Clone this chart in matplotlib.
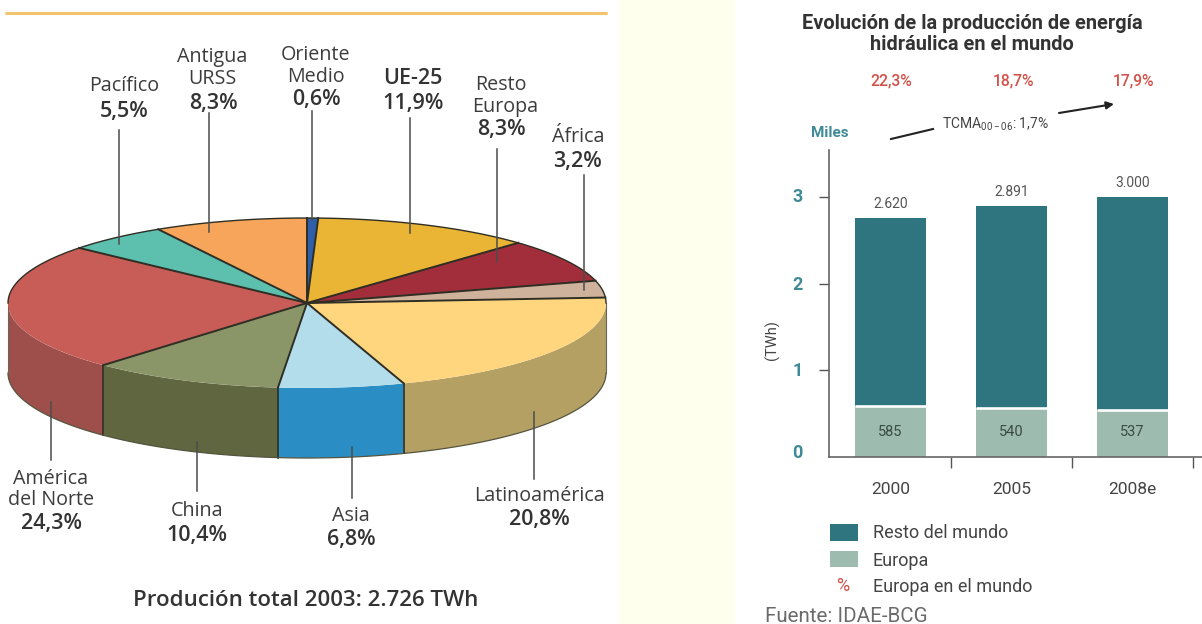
import numpy as np
import matplotlib
matplotlib.use("Agg")
import matplotlib.pyplot as plt
from matplotlib.patches import Rectangle, Polygon
from matplotlib.transforms import ScaledTranslation

# ---------- data ----------
regions = ["Oriente Medio", "UE-25", "Resto Europa", "África", "Latinoamérica",
           "Asia", "China", "América del Norte", "Pacífico", "Antigua URSS"]
shares = [0.6, 11.9, 8.3, 3.2, 20.8, 6.8, 10.4, 24.3, 5.5, 8.3]
top_colors = ["#2F5FA8", "#EAB435", "#A32E3B", "#CFB29B", "#FFD67E",
              "#B3DDEB", "#8A9668", "#C75D56", "#5DBFAE", "#F6A55A"]
wall_colors = ["#2F5FA8", "#EAB435", "#A32E3B", "#A08A78", "#B5A064",
               "#2A8EC5", "#5F6640", "#9E4F4B", "#5DBFAE", "#F6A55A"]

years = ["2000", "2005", "2008e"]
europa = [0.594, 0.565, 0.548]         # drawn height of the lower segment
resto = [2.163, 2.333, 2.452]          # drawn height of the upper segment
total_labels = ["2.620", "2.891", "3.000"]
europa_labels = ["585", "540", "537"]
europe_pct = ["22,3%", "18,7%", "17,9%"]

W, H = 1202, 624
PIE_FONT = "Open Sans"
BAR_FONT = "Roboto"
plt.rcParams["mathtext.default"] = "regular"
fig = plt.figure(figsize=(W / 100, H / 100), dpi=100, facecolor="white")


def rect(x0, y0, x1, y1):
    return [x0 / W, 1 - y1 / H, (x1 - x0) / W, (y1 - y0) / H]


# ---------- 3-D pie ----------
ax_pie = fig.add_axes(rect(8, 218, 606, 388))
wedges, _ = ax_pie.pie(shares, colors=top_colors, startangle=90, counterclock=False,
                       radius=1, wedgeprops=dict(linewidth=0), normalize=True)
ax_pie.set_aspect("auto")
ax_pie.set_xlim(-1, 1)
ax_pie.set_ylim(-1, 1)
for w in wedges:
    w.set_zorder(3)
    w.set_clip_on(False)

depth = 70 / 85
edge = "#2e2e24"
bounds = np.cumsum([0] + shares) / np.sum(shares) * 2 * np.pi   # clockwise from top
for i, c in enumerate(wall_colors):
    a0, a1 = max(bounds[i], np.pi / 2), min(bounds[i + 1], 3 * np.pi / 2)
    if a1 <= a0:
        continue
    t = np.linspace(a0, a1, 80)
    x, y = np.sin(t), np.cos(t)
    pts = np.r_[np.c_[x, y], np.c_[x[::-1], y[::-1] - depth]]
    ax_pie.add_patch(Polygon(pts, closed=True, fc=c, ec="none", zorder=1, clip_on=False))
    if a0 > np.pi / 2:
        ax_pie.plot([x[0], x[0]], [y[0], y[0] - depth], color=edge, lw=1.2, zorder=2, clip_on=False)
    ax_pie.plot(x, y - depth, color="#55553f", lw=0.9, zorder=2, clip_on=False)
ax_pie.plot([-1, -1], [0, -depth], color="#666655", lw=0.8, zorder=2, clip_on=False)
ax_pie.plot([1, 1], [0, -depth], color="#666655", lw=0.8, zorder=2, clip_on=False)
for b in bounds[:-1]:
    ax_pie.plot([0, np.sin(b)], [0, np.cos(b)], color=edge, lw=1.4, zorder=4, clip_on=False)
t = np.linspace(-np.pi / 2, np.pi / 2, 200)
ax_pie.plot(np.sin(t), np.cos(t), color=edge, lw=1.0, zorder=4, clip_on=False)

# ---------- stacked bars ----------
ax = fig.add_axes(rect(829, 150, 1202, 457))
ax.patch.set_alpha(0)
pos = np.arange(len(years))
ax.bar(pos, europa, width=0.59, color="#9DBCAF")
ax.bar(pos, resto, width=0.59, bottom=europa, color="#2E7580")
ax.hlines(europa, pos - 0.295, pos + 0.295, color="white", lw=1.9, zorder=3)
ax.set_xlim(-0.508, 2.574)
ax.set_ylim(0, 307 / 86.67)
for s in ("top", "right"):
    ax.spines[s].set_visible(False)
for s in ("left", "bottom"):
    ax.spines[s].set_color("#666666")
    ax.spines[s].set_linewidth(1.2)
ax.set_xticks(pos)
ax.set_xticklabels(years, fontfamily=BAR_FONT, fontsize=12.5, color="#444444")
ax.tick_params(axis="x", which="major", length=0, pad=18)
ax.set_xticks([0.5, 1.5, 2.5], minor=True)
ax.tick_params(axis="x", which="minor", length=8, width=1, color="#555555")
ax.set_yticks([0, 1, 2, 3])
ax.set_yticklabels(["0", "1", "2", "3"], fontfamily=BAR_FONT, fontsize=13, fontweight="bold", color="#3F8A96")
ax.tick_params(axis="y", length=7, width=1, color="#555555", pad=12)
ax.yaxis.get_major_ticks()[0].tick1line.set_visible(False)
for lab, up_px in zip(ax.get_yticklabels(), [6, 1, 1, 2]):
    lab.set_transform(lab.get_transform() + ScaledTranslation(0, up_px / 100, fig.dpi_scale_trans))
for p, e, r, tot, el in zip(pos, europa, resto, total_labels, europa_labels):
    ax.text(p, e + r + 0.08, tot, ha="center", va="bottom", fontfamily=BAR_FONT, fontsize=10, color="#555555")
    ax.text(p, 0.29, el, ha="center", va="center", fontfamily=BAR_FONT, fontsize=10.5, color="#3a4a44")

# ---------- overlay in pixel coordinates: panels, callouts, text ----------
ov = fig.add_axes([0, 0, 1, 1], zorder=10)
ov.set_xlim(0, W)
ov.set_ylim(H, 0)
ov.axis("off")
ov.add_patch(Rectangle((619, 0), 116, H, fc="#FFFFEE", ec="none", zorder=0))
ov.plot([6, 606], [13, 13], color="#F2C46E", lw=2.2, solid_capstyle="round")

leaders = [(119, 130, 244), (209, 113, 232), (312, 111, 220), (410, 118, 233), (497, 149, 262),
           (584, 175, 290), (51, 402, 460), (197, 442, 491), (352, 447, 498), (534, 412, 479)]
for x, y0, y1 in leaders:
    ov.plot([x, x], [y0, y1], color="#4c4c4c", lw=1.1)

name_color = "#3c3c3c"
names = [("Pacífico", 124, 86), ("Antigua", 212, 57), ("URSS", 212, 79), ("Oriente", 316, 55), ("Medio", 316, 77),
         ("Resto", 501, 85), ("Europa", 505, 107), ("África", 578, 137), ("América", 51, 479),
         ("del Norte", 51, 500), ("China", 197, 511), ("Asia", 351, 516), ("Latinoamérica", 539, 496)]
for s, x, y in names:
    ov.text(x, y, s, ha="center", va="center", fontfamily=PIE_FONT, fontsize=14.2, color=name_color)
values_txt = [("UE-25", 413, 79), ("5,5%", 124, 111), ("8,3%", 213, 103), ("0,6%", 316, 100), ("11,9%", 413, 103),
              ("8,3%", 501, 130), ("3,2%", 578, 162), ("24,3%", 51, 524), ("10,4%", 197, 535),
              ("6,8%", 351, 540), ("20,8%", 539, 520)]
for s, x, y in values_txt:
    ov.text(x, y, s, ha="center", va="center", fontfamily=PIE_FONT, fontsize=15.5, fontweight="semibold", color="#333333")
ov.text(306, 601, "Produción total 2003: 2.726 TWh", ha="center", va="center",
        fontfamily=PIE_FONT, fontsize=16, fontweight="semibold", color="#333333")

ov.text(972, 34, "Evolución de la producción de energía\nhidráulica en el mundo", ha="center", va="center",
        fontfamily=BAR_FONT, fontsize=14.4, fontweight="bold", color="#333333", linespacing=1.1)
for s, x in zip(europe_pct, [891, 1013, 1133]):
    ov.text(x, 81, s, ha="center", va="center", fontfamily=BAR_FONT, fontsize=11.3, fontweight="medium", color="#D2524A")
ov.text(830, 133, "Miles", ha="center", va="center", fontfamily=BAR_FONT, fontsize=11, fontweight="bold", color="#3F8A96")
ov.text(995, 124, "TCMA$_{00-06}$: 1,7%", ha="center", va="center", fontfamily=BAR_FONT, fontsize=10, color="#444444")
ov.text(772, 340, "(TWh)", rotation=90, ha="center", va="center", fontfamily=BAR_FONT, fontsize=10.5, color="#444444")
ov.plot([891, 933], [139, 129], color="#222222", lw=1.5)
ov.annotate("", xy=(1114, 104), xytext=(1059, 113),
            arrowprops=dict(arrowstyle="-|>", color="#222222", lw=1.5, mutation_scale=11, shrinkA=0, shrinkB=0))

ov.add_patch(Rectangle((830, 524), 28, 17, fc="#2E7580", ec="none"))
ov.add_patch(Rectangle((830, 551), 28, 16, fc="#9DBCAF", ec="none"))
ov.text(843, 586, "%", ha="center", va="center", fontfamily=BAR_FONT, fontsize=13, color="#D2524A")
for s, y in [("Resto del mundo", 533), ("Europa", 561), ("Europa en el mundo", 587)]:
    ov.text(873, y, s, ha="left", va="center", fontfamily=BAR_FONT, fontsize=13, color="#444444")
ov.text(765, 616, "Fuente: IDAE-BCG", ha="left", va="center", fontfamily=BAR_FONT, fontsize=14.8, color="#6a6a6a")

fig.savefig("out.png", dpi=100, facecolor="white")
